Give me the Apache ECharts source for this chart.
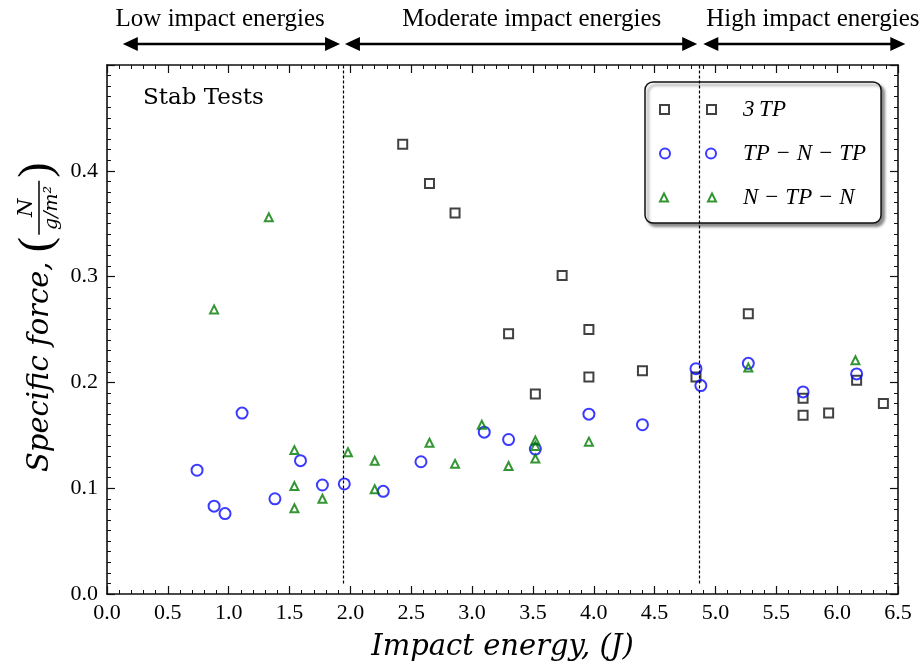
<!DOCTYPE html>
<html>
<head>
<meta charset="utf-8">
<script src="https://cdn.jsdelivr.net/npm/echarts@6/dist/echarts.min.js"></script>
<style>
  html, body { margin: 0; padding: 0; background: #fff; }
  #chart { width: 921px; height: 667px; }
</style>
</head>
<body>
<div id="chart"></div>
<script>
// 3TP (black squares)
const tp3X = [2.43, 2.65, 2.86, 3.30, 3.52, 3.74, 3.96, 3.96, 4.40, 4.84, 5.27, 5.72, 5.72, 5.93, 6.16, 6.38];
const tp3Y = [0.425, 0.388, 0.360, 0.246, 0.189, 0.301, 0.250, 0.205, 0.211, 0.205, 0.265, 0.185, 0.169, 0.171, 0.202, 0.180];
// TP-N-TP (blue circles)
const tpnX = [0.74, 0.88, 0.97, 1.11, 1.38, 1.59, 1.77, 1.95, 2.27, 2.58, 3.10, 3.30, 3.52, 3.96, 4.40, 4.84, 4.88, 5.27, 5.72, 6.16];
const tpnY = [0.117, 0.083, 0.076, 0.171, 0.090, 0.126, 0.103, 0.104, 0.097, 0.125, 0.153, 0.146, 0.137, 0.170, 0.160, 0.213, 0.197, 0.218, 0.191, 0.208];
// N-TP-N (green triangles)
const ntpX = [0.88, 1.33, 1.54, 1.54, 1.54, 1.77, 1.98, 2.20, 2.20, 2.65, 2.86, 3.08, 3.30, 3.52, 3.52, 3.52, 3.96, 5.27, 6.15];
const ntpY = [0.269, 0.356, 0.136, 0.102, 0.081, 0.090, 0.134, 0.126, 0.099, 0.143, 0.123, 0.160, 0.121, 0.145, 0.140, 0.128, 0.144, 0.214, 0.221];

// region boundaries and the labelled ranges above the plot
const boundaries = [1.945, 4.87];
const regionNames = ["Low impact energies", "Moderate impact energies", "High impact energies"];
const regionArrows = [[0.13, 1.915], [1.955, 4.85], [4.90, 6.56]];
const regionTextX = [0.93, 3.49, 5.80];

const seriesNames = ["3TP", "TP \u2212 N \u2212 TP", "N \u2212 TP \u2212 N"];
const legendLabels = ["3\u2009TP", "TP \u2212 N \u2212 TP", "N \u2212 TP \u2212 N"];

const zip = (xs, ys) => xs.map((x, i) => [x, ys[i]]);

const serif = "Liberation Serif";
const mathFont = "DejaVu Serif";
const chart = echarts.init(document.getElementById("chart"));

const axisLine = { show: true, onZero: false, lineStyle: { color: "#111", width: 1.6 } };
const tickIn = { show: true, inside: true, length: 8, lineStyle: { color: "#111", width: 1.2 } };
const minorIn = (n) => ({ show: true, splitNumber: n, length: 4, lineStyle: { color: "#111", width: 1 } });

const option = {
  animation: false,
  backgroundColor: "#fff",
  grid: { left: 107, right: 23, top: 65, bottom: 73 },
  title: {
    text: "Stab Tests",
    left: 138,
    top: 82,
    textStyle: { fontFamily: "DejaVu Serif", fontSize: 23, fontWeight: "normal", color: "#000" }
  },
  legend: {
    orient: "vertical",
    left: 645,
    top: 82,
    padding: [16, 15, 14, 14],
    itemGap: 21,
    itemWidth: 56,
    itemHeight: 11,
    backgroundColor: "#fff",
    borderColor: "#111",
    borderWidth: 1.5,
    borderRadius: 8,
    shadowColor: "rgba(0,0,0,0.45)",
    shadowBlur: 3,
    shadowOffsetX: 3,
    shadowOffsetY: 3,
    formatter: (name) => legendLabels[seriesNames.indexOf(name)],
    textStyle: {
      fontFamily: serif, fontStyle: "italic", fontSize: 23, color: "#000",
      padding: [0, 0, 0, 22]
    },
    data: [
      { name: seriesNames[0], icon: "path://M0,0H9V9H0Z M47,0H56V9H47Z",
        itemStyle: { color: "transparent", borderColor: "#111", borderWidth: 2 } },
      { name: seriesNames[1], icon: "path://M0,5.5A5,5 0 1,0 10,5.5A5,5 0 1,0 0,5.5Z M46,5.5A5,5 0 1,0 56,5.5A5,5 0 1,0 46,5.5Z",
        itemStyle: { color: "transparent", borderColor: "#0a0aff", borderWidth: 2 } },
      { name: seriesNames[2], icon: "path://M4,0L8,8H0Z M52,0L56,8H48Z",
        itemStyle: { color: "transparent", borderColor: "#007a00", borderWidth: 2 } }
    ]
  },
  xAxis: [
    {
      type: "value", min: 0, max: 6.5, interval: 0.5,
      name: "Impact energy, (J)",
      nameLocation: "middle",
      nameGap: 39,
      nameTextStyle: { fontFamily: mathFont, fontStyle: "italic", fontSize: 29, color: "#000" },
      axisLine: axisLine, axisTick: tickIn, minorTick: minorIn(5),
      splitLine: { show: false },
      axisLabel: { fontFamily: serif, fontSize: 22, color: "#000", margin: 8,
        formatter: (v) => v.toFixed(1) }
    },
    {
      type: "value", min: 0, max: 6.5, interval: 0.5, position: "top",
      axisLine: axisLine, axisTick: tickIn, minorTick: minorIn(5),
      splitLine: { show: false }, axisLabel: { show: false }
    }
  ],
  yAxis: [
    {
      type: "value", min: 0, max: 0.5, interval: 0.1,
      axisLine: axisLine, axisTick: tickIn, minorTick: minorIn(10),
      splitLine: { show: false },
      axisLabel: { fontFamily: serif, fontSize: 22, color: "#000", margin: 9,
        formatter: (v) => (v > 0.45 ? "" : v.toFixed(1)) }
    },
    {
      type: "value", min: 0, max: 0.5, interval: 0.1, position: "right",
      axisLine: axisLine, axisTick: tickIn, minorTick: minorIn(10),
      splitLine: { show: false }, axisLabel: { show: false }
    }
  ],
  series: [
    {
      name: seriesNames[0], type: "scatter", symbol: "rect", symbolSize: 9,
      itemStyle: { color: "transparent", borderColor: "#111", borderWidth: 2 },
      emphasis: { disabled: true },
      data: zip(tp3X, tp3Y),
      markLine: {
        silent: true, symbol: "none", label: { show: false },
        lineStyle: { color: "#000", type: [3, 2], width: 1.2 },
        data: boundaries.map((b) => [{ coord: [b, 0.01] }, { coord: [b, 0.5] }])
      }
    },
    {
      name: seriesNames[1], type: "scatter", symbol: "circle", symbolSize: 11,
      itemStyle: { color: "transparent", borderColor: "#0a0aff", borderWidth: 2 },
      emphasis: { disabled: true },
      data: zip(tpnX, tpnY)
    },
    {
      name: seriesNames[2], type: "scatter", symbol: "triangle", symbolSize: [8, 8],
      itemStyle: { color: "transparent", borderColor: "#007a00", borderWidth: 2 },
      emphasis: { disabled: true },
      data: zip(ntpX, ntpY)
    }
  ]
};
chart.setOption(option);

// annotations: region arrows and names, y axis title with fraction
const px = (x) => chart.convertToPixel({ xAxisIndex: 0 }, x);
const arrowY = 44;
const headLen = 15, headHalf = 7;
const graphics = [];
regionArrows.forEach(([a, b], i) => {
  const x1 = px(a), x2 = px(b);
  graphics.push({ type: "line", shape: { x1: x1 + headLen - 2, y1: arrowY, x2: x2 - headLen + 2, y2: arrowY },
    style: { stroke: "#000", lineWidth: 2.5 } });
  graphics.push({ type: "polygon", shape: { points: [[x1, arrowY], [x1 + headLen, arrowY - headHalf], [x1 + headLen, arrowY + headHalf]] },
    style: { fill: "#000" } });
  graphics.push({ type: "polygon", shape: { points: [[x2, arrowY], [x2 - headLen, arrowY - headHalf], [x2 - headLen, arrowY + headHalf]] },
    style: { fill: "#000" } });
  graphics.push({ type: "text", x: px(regionTextX[i]), y: 19,
    style: { text: regionNames[i], fill: "#000", font: "25px " + serif, align: "center", verticalAlign: "middle" } });
});

const ctx = document.createElement("canvas").getContext("2d");
const mainFont = "italic 29px " + mathFont;
ctx.font = mainFont;
const w1 = ctx.measureText("Specific force, ").width;
const parenFont = "46px " + serif;
ctx.font = parenFont;
const wp = ctx.measureText("(").width;
const fracW = 54;
const fx = w1 + wp + 2;
graphics.push({
  type: "group", x: 40, y: 472, rotation: Math.PI / 2,
  children: [
    { type: "text", x: 0, y: 0, style: { text: "Specific force,", font: mainFont, fill: "#000", verticalAlign: "middle" } },
    { type: "text", x: w1, y: -2, style: { text: "(", font: parenFont, fill: "#000", verticalAlign: "middle" } },
    { type: "text", x: fx + fracW / 2, y: -13, style: { text: "N", font: "italic 21px " + mathFont, fill: "#000", align: "center", verticalAlign: "middle" } },
    { type: "line", shape: { x1: fx, y1: -1, x2: fx + fracW, y2: -1 }, style: { stroke: "#000", lineWidth: 1.5 } },
    { type: "text", x: fx + fracW / 2, y: 12, style: { text: "g/m\u00b2", font: "italic 19px " + mathFont, fill: "#000", align: "center", verticalAlign: "middle" } },
    { type: "text", x: fx + fracW + 3, y: -2, style: { text: ")", font: parenFont, fill: "#000", verticalAlign: "middle" } }
  ]
});
chart.setOption({ graphic: graphics });
</script>
</body>
</html>
